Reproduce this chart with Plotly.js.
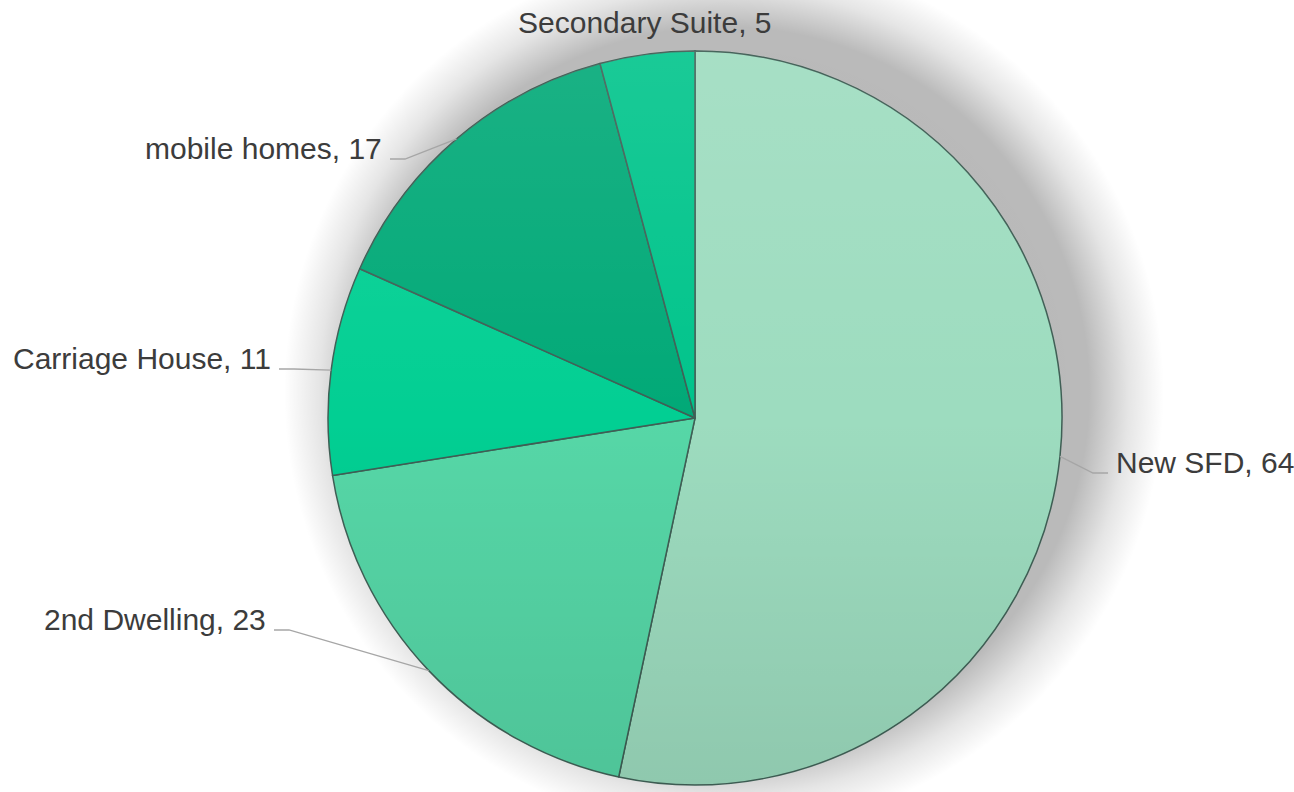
<!DOCTYPE html>
<html>
<head>
<meta charset="utf-8">
<script src="https://cdn.plot.ly/plotly-3.0.1.min.js"></script>
<style>
  html, body { margin: 0; padding: 0; background: #ffffff; }
  #wrap {
    position: relative; width: 1294px; height: 792px; overflow: hidden;
    background:
      radial-gradient(ellipse 440px 440px at 724px 392px,
        rgba(0,0,0,0.30) 0%, rgba(0,0,0,0.27) 83%, rgba(0,0,0,0.10) 92%, rgba(0,0,0,0) 100%),
      #ffffff;
  }
  #chart { position: absolute; left: 0; top: 0; width: 1294px; height: 792px; }
  #sheen {
    position: absolute; border-radius: 50%; pointer-events: none;
    background: linear-gradient(to bottom, rgba(255,255,255,0.10) 0%, rgba(255,255,255,0) 50%, rgba(0,0,0,0.09) 100%);
  }
</style>
</head>
<body>
<div id="wrap"><div id="chart"></div><div id="sheen"></div></div>
<script>
// ---- data ----
const categories = ["New SFD", "2nd Dwelling", "Carriage House", "mobile homes", "Secondary Suite"];
const values = [64, 23, 11, 17, 5];
const colors = ["#9ddcbf", "#56d7a7", "#02cf93", "#01a977", "#00c48b"];

// ---- layout constants (pixels) ----
const W = 1294, H = 792;
const CX = 695, CY = 418, R = 367;
// label placement: anchor side, x of text edge, baseline y
const labelPlace = {
  "New SFD":        {side: "left",   x: 1114, base: 473, line: true},
  "2nd Dwelling":   {side: "right",  x: 268,  base: 630, line: true},
  "Carriage House": {side: "right",  x: 273,  base: 369, line: true},
  "mobile homes":   {side: "right",  x: 384,  base: 159, line: true},
  "Secondary Suite":{side: "center", x: 645,  base: 33,  line: false}
};

const sheen = document.getElementById("sheen");
sheen.style.left = (CX - R) + "px";
sheen.style.top = (CY - R) + "px";
sheen.style.width = (2 * R) + "px";
sheen.style.height = (2 * R) + "px";

const px = x => x / W;
const py = y => 1 - y / H;

const total = values.reduce((a, b) => a + b, 0);
const annotations = [];
const shapes = [];
let cum = 0;
categories.forEach((cat, i) => {
  const mid = (cum + values[i] / 2) / total * 2 * Math.PI; // clockwise from top
  cum += values[i];
  const ex = CX + R * Math.sin(mid);
  const ey = CY - R * Math.cos(mid);
  const lp = labelPlace[cat];
  annotations.push({
    xref: "paper", yref: "paper",
    x: px(lp.x), y: py(lp.base - 11),
    xanchor: lp.side, yanchor: "middle",
    text: cat + ", " + values[i],
    showarrow: false,
    font: {family: "Liberation Sans, Arial, sans-serif", size: 30, color: "#3c3c3c"}
  });
  if (lp.line) {
    const dir = lp.side === "right" ? 1 : -1;
    const sx = lp.x + dir * 6;
    const kx = sx + dir * 15;
    shapes.push({
      type: "path", xref: "paper", yref: "paper",
      path: `M ${px(sx)} ${py(lp.base)} L ${px(kx)} ${py(lp.base)} L ${px(ex)} ${py(ey)}`,
      line: {color: "#a6a6a6", width: 1.3}
    });
  }
});

const trace = {
  type: "pie",
  labels: categories,
  values: values,
  sort: false,
  direction: "clockwise",
  rotation: 0,
  textinfo: "none",
  hoverinfo: "label+value",
  marker: {colors: colors, line: {color: "#3f5f55", width: 1.5}},
  domain: {x: [px(CX - R), px(CX + R)], y: [py(CY + R), py(CY - R)]}
};

Plotly.newPlot("chart", [trace], {
  width: W, height: H,
  margin: {l: 0, r: 0, t: 0, b: 0},
  paper_bgcolor: "rgba(0,0,0,0)",
  plot_bgcolor: "rgba(0,0,0,0)",
  showlegend: false,
  annotations: annotations,
  shapes: shapes
}, {displayModeBar: false, staticPlot: true});
</script>
</body>
</html>
